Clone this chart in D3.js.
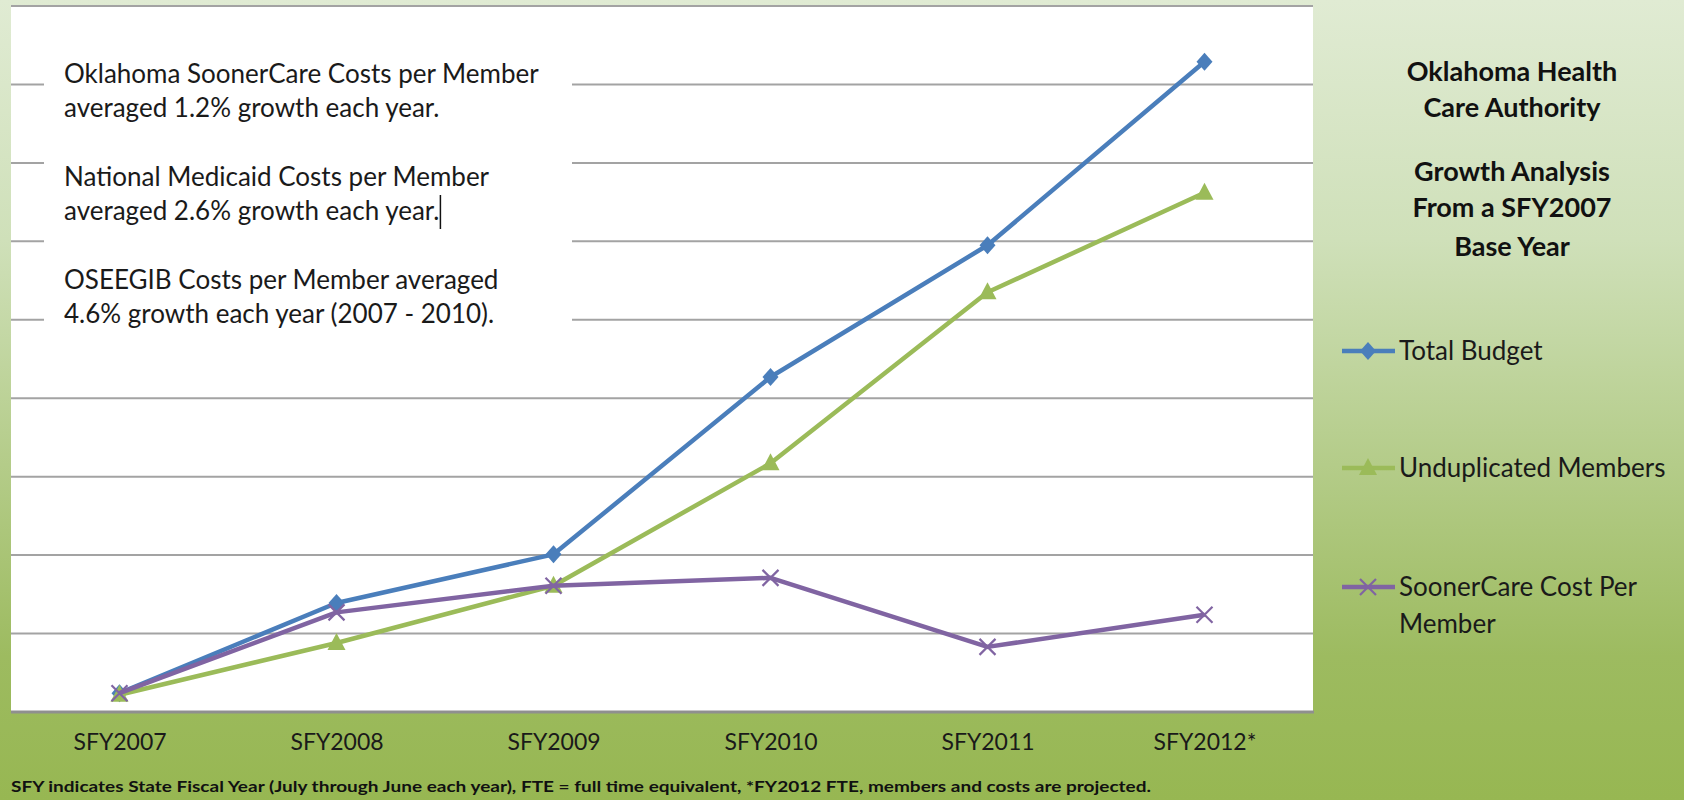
<!DOCTYPE html>
<html>
<head>
<meta charset="utf-8">
<script src="https://cdn.jsdelivr.net/npm/d3@7"></script>
<style>
  body { margin: 0; padding: 0; background: #9bbb59; }
  svg { display: block; font-family: Lato, "Open Sans", sans-serif; }
</style>
</head>
<body>
<div id="chart"></div>
<script>
// chart data (grid units from the SFY2007 base)
var years = ["SFY2007", "SFY2008", "SFY2009", "SFY2010", "SFY2011", "SFY2012*"];
var totalBudget = [0.24, 1.39, 2.01, 4.27, 5.95, 8.29];
var unduplicatedMembers = [0.22, 0.88, 1.61, 3.17, 5.35, 6.62];
var costPerMember = [0.24, 1.27, 1.61, 1.71, 0.83, 1.24];
var gridTicks = [0, 1, 2, 3, 4, 5, 6, 7, 8, 9];

var notes = [
  ["Oklahoma SoonerCare Costs per Member", "averaged 1.2% growth each year."],
  ["National Medicaid Costs per Member", "averaged 2.6% growth each year."],
  ["OSEEGIB Costs per Member averaged", "4.6% growth each year (2007 - 2010)."]
];
var titleLines = ["Oklahoma Health", "Care Authority", "", "Growth Analysis", "From a SFY2007", "Base Year"];
var footnote = "SFY indicates State Fiscal Year (July through June each year), FTE = full time equivalent,  *FY2012 FTE, members and costs are projected.";

var series = [
  {name: ["Total Budget"], values: totalBudget, color: "#4a7ebb", marker: "diamond"},
  {name: ["Unduplicated Members"], values: unduplicatedMembers, color: "#9bbb59", marker: "triangle"},
  {name: ["SoonerCare Cost Per", "Member"], values: costPerMember, color: "#8064a2", marker: "x"}
];

var svgWidth = 1684;
var svgHeight = 800;

var plot = {left: 11, right: 1313, top: 6, bottom: 712};

var svg = d3.select("#chart")
  .append("svg")
  .attr("width", svgWidth)
  .attr("height", svgHeight);

// background gradient
var defs = svg.append("defs");
var grad = defs.append("linearGradient")
  .attr("id", "bg")
  .attr("x1", 0).attr("y1", 0).attr("x2", 0).attr("y2", 1);
grad.append("stop").attr("offset", "0%").attr("stop-color", "#e0ebd3");
grad.append("stop").attr("offset", "30%").attr("stop-color", "#cfe0b9");
grad.append("stop").attr("offset", "82%").attr("stop-color", "#9dbb60");
grad.append("stop").attr("offset", "100%").attr("stop-color", "#97b752");

svg.append("rect")
  .attr("width", svgWidth)
  .attr("height", svgHeight)
  .attr("fill", "url(#bg)");

// scales
var xScale = d3.scalePoint()
  .domain(years)
  .range([plot.left, plot.right])
  .padding(0.5);

var yScale = d3.scaleLinear()
  .domain([0, 9])
  .range([plot.bottom, plot.top]);

// plot area
svg.append("rect")
  .attr("x", plot.left)
  .attr("y", plot.top)
  .attr("width", plot.right - plot.left)
  .attr("height", plot.bottom - plot.top)
  .attr("fill", "white");

// gridlines
svg.append("g").selectAll("line")
  .data(gridTicks.slice(1))
  .enter()
  .append("line")
  .attr("x1", plot.left)
  .attr("x2", plot.right)
  .attr("y1", d => yScale(d))
  .attr("y2", d => yScale(d))
  .attr("stroke", "#a3a3a3")
  .attr("stroke-width", 2);

// bottom axis line
svg.append("line")
  .attr("x1", plot.left)
  .attr("x2", plot.right + 1)
  .attr("y1", yScale(0))
  .attr("y2", yScale(0))
  .attr("stroke", "#8f8f8f")
  .attr("stroke-width", 3);

// text box over the upper left
var box = svg.append("g");
box.append("rect")
  .attr("x", 44)
  .attr("y", 32)
  .attr("width", 528)
  .attr("height", 312)
  .attr("fill", "white");

var caretX = 0;
notes.forEach(function(lines, i) {
  lines.forEach(function(line, j) {
    var t = box.append("text")
      .attr("x", 64)
      .attr("y", 83 + i * 103 + j * 34)
      .attr("font-size", "26px")
      .attr("fill", "#1a1a1a")
      .text(line);
    if (i === 1 && j === 1) caretX = 64 + t.node().getComputedTextLength() + 1;
  });
});
// the text caret after "year."
box.append("line")
  .attr("x1", caretX).attr("x2", caretX)
  .attr("y1", 195).attr("y2", 229)
  .attr("stroke", "#111")
  .attr("stroke-width", 1.5);

// x axis labels
var xAxis = d3.axisBottom(xScale).tickSize(0).tickPadding(22);
var xg = svg.append("g")
  .attr("transform", `translate(0, ${plot.bottom})`)
  .call(xAxis);
xg.select(".domain").remove();
xg.selectAll("text")
  .attr("font-family", "Lato, sans-serif")
  .attr("font-size", "23px")
  .attr("fill", "#1a1a1a");

// lines and markers
var line = d3.line()
  .x((d, i) => xScale(years[i]))
  .y(d => yScale(d));

function drawMarker(g, type, color) {
  if (type === "diamond") {
    g.append("path")
      .attr("d", "M0,-9L8,0L0,9L-8,0Z")
      .attr("fill", color);
  } else if (type === "triangle") {
    g.append("path")
      .attr("d", "M0,-10L9,7L-9,7Z")
      .attr("fill", color);
  } else {
    g.append("path")
      .attr("d", "M-8,-8L8,8M-8,8L8,-8")
      .attr("stroke", color)
      .attr("stroke-width", 2.2)
      .attr("fill", "none");
  }
}

series.forEach(function(s) {
  svg.append("path")
    .datum(s.values)
    .attr("d", line)
    .attr("fill", "none")
    .attr("stroke", s.color)
    .attr("stroke-width", 4.5)
    .attr("stroke-linejoin", "round");

  s.values.forEach(function(v, i) {
    var g = svg.append("g")
      .attr("transform", `translate(${xScale(years[i])}, ${yScale(v)})`);
    drawMarker(g, s.marker, s.color);
  });
});

// title on the right
var title = svg.append("g");
var titleY = [81, 117, 0, 181, 217, 256];
titleLines.forEach(function(t, i) {
  if (!t) return;
  title.append("text")
    .attr("x", 1512)
    .attr("y", titleY[i])
    .attr("text-anchor", "middle")
    .attr("font-size", "27px")
    .attr("font-weight", "bold")
    .attr("fill", "#111")
    .text(t);
});

// legend
var legendY = [351, 468, 587];
series.forEach(function(s, i) {
  var g = svg.append("g")
    .attr("transform", `translate(0, ${legendY[i]})`);
  g.append("line")
    .attr("x1", 1342).attr("x2", 1395)
    .attr("y1", 0).attr("y2", 0)
    .attr("stroke", s.color)
    .attr("stroke-width", 4.5);
  var m = g.append("g").attr("transform", "translate(1368, 0)");
  drawMarker(m, s.marker, s.color);
  s.name.forEach(function(n, j) {
    g.append("text")
      .attr("x", 1399)
      .attr("y", 9 + j * 37)
      .attr("font-size", "26px")
      .attr("fill", "#1a1a1a")
      .text(n);
  });
});

// footnote
svg.append("text")
  .attr("x", 11)
  .attr("y", 792)
  .attr("font-size", "15px")
  .attr("font-weight", "bold")
  .attr("fill", "#111")
  .attr("textLength", 1140)
  .attr("lengthAdjust", "spacingAndGlyphs")
  .text(footnote);
</script>
</body>
</html>
